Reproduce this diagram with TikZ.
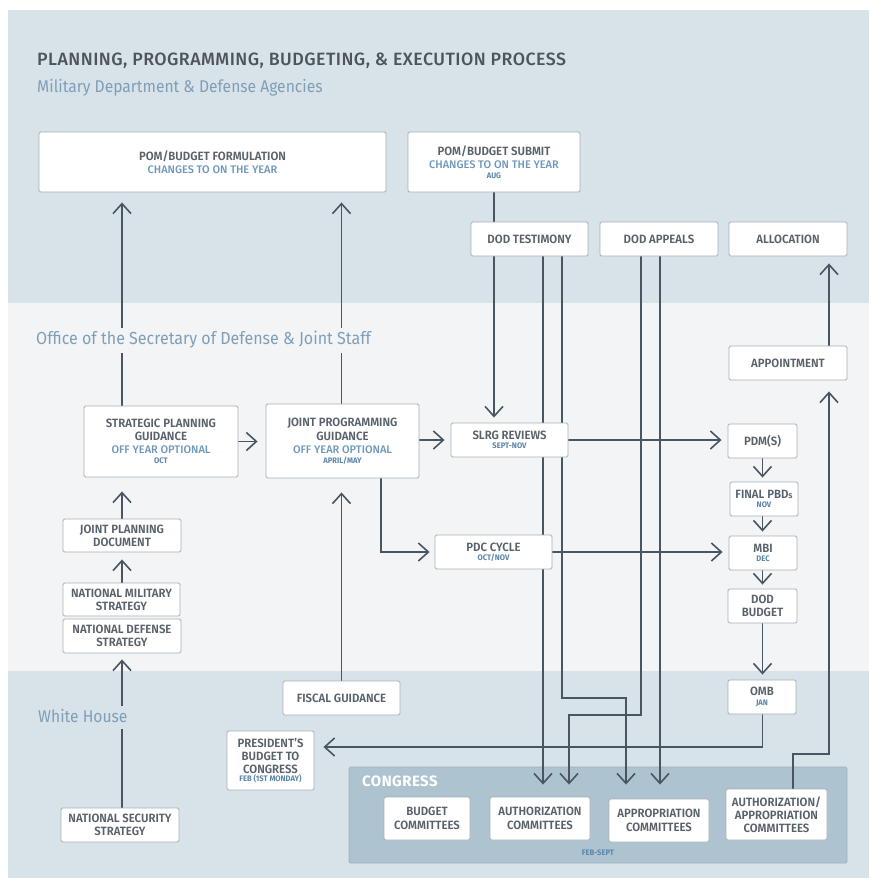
\documentclass[tikz,border=0pt]{standalone}
\usepackage{fontspec}
\setmainfont{Fira Sans}
\IfFontExistsTF{Fira Sans SemiBold}
 {\newfontfamily\bxfont[FakeStretch=0.95]{Fira Sans SemiBold}}
 {\newfontfamily\bxfontA[FakeStretch=0.95]{Fira Sans}\def\bxfont{\bxfontA\bfseries}}
\IfFontExistsTF{Fira Sans Medium}
 {\newfontfamily\mdfont{Fira Sans Medium}\newfontfamily\ttlfont[LetterSpace=2.5]{Fira Sans Medium}}
 {\newfontfamily\mdfont{Fira Sans}\newfontfamily\ttlfont[LetterSpace=2.5]{Fira Sans}}
\newfontfamily\bdfontA[FakeStretch=0.95]{Fira Sans}
\def\bdfont{\bdfontA\bfseries}
\newfontfamily\cgfontA[LetterSpace=3]{Fira Sans}
\def\cgfont{\cgfontA\bfseries}
\newfontfamily\lblfont[FakeStretch=0.92]{Fira Sans}
\usetikzlibrary{arrows.meta,calc}
\pgfdeclarelayer{back}
\pgfdeclarelayer{lines}
\pgfsetlayers{back,lines,main}
\definecolor{bandA}{HTML}{D8E2E9}
\definecolor{bandB}{HTML}{F2F4F6}
\definecolor{congr}{HTML}{ADC3D0}
\definecolor{congrb}{HTML}{9EB4C1}
\definecolor{ln}{HTML}{4A5562}
\definecolor{bxb}{HTML}{A8B0B8}
\definecolor{tdark}{HTML}{59626B}
\definecolor{ttitle}{HTML}{4D545B}
\definecolor{tlabel}{HTML}{7F9FB8}
\definecolor{tblue}{HTML}{6E98BA}
\definecolor{tdate}{HTML}{5B87AB}
\newcommand\tA{\fontsize{12}{13}\selectfont\color{tdark}\bxfont}
\newcommand\tB{\fontsize{11}{13}\selectfont\color{tblue}\mdfont}
\newcommand\tC{\fontsize{8}{13}\selectfont\color{tdate}\bdfont}
\begin{document}
\begin{tikzpicture}[x=1pt,y=-1pt,
 bx/.style={draw=bxb,fill=white,line width=0.9pt,rounded corners=1.5pt,inner sep=0pt,align=center,font=\tA},
 wh/.style 2 args={minimum width=#1pt,minimum height=#2pt},
 con/.style={draw=ln,line width=1.6pt},
 arr/.style={con,-{Straight Barb[length=10pt,width=18pt]}},
 lbl/.style={anchor=base west,inner sep=0pt,text=tlabel}
]
\useasboundingbox (0,0) rectangle (869,878);
\begin{pgfonlayer}{back}
\fill[white] (0,0) rectangle (869,878);
\fill[bandA] (8,10) rectangle (869,303);
\fill[bandB] (8,303) rectangle (869,671);
\fill[bandA] (8,671) rectangle (869,878);
\node[draw=congrb,fill=congr,line width=0.9pt,rounded corners=1.5pt,wh={498}{96}] (congress) at (598,815) {};
\end{pgfonlayer}

% titles
\node[anchor=base west,inner sep=0pt,font=\fontsize{17.8}{20}\selectfont\ttlfont,text=ttitle] (title) at (37,65) {PLANNING, PROGRAMMING, BUDGETING, \& EXECUTION PROCESS};
\node[lbl,font=\fontsize{17}{20}\selectfont\lblfont] (sub) at (37,92) {Military Department \& Defense Agencies};
\node[lbl,fill=bandB,inner xsep=2pt,text height=16.5pt,text depth=8.5pt,font=\fontsize{17.4}{20}\selectfont\lblfont] (osd) at (34,344.5) {Office of the Secretary of Defense \& Joint Staff};
\node[lbl,fill=bandA,inner xsep=2pt,text height=16pt,text depth=7pt,font=\fontsize{17}{20}\selectfont\lblfont] (wh) at (36,722) {White House};

% boxes
\node[bx,wh={347}{60}] (form) at (212.5,162) {\tA POM/BUDGET FORMULATION\\[-0.5pt]\tB CHANGES TO ON THE YEAR};
\node[bx,wh={172}{60}] (submit) at (494,162) {\tA POM/BUDGET SUBMIT\\[-0.5pt]\tB CHANGES TO ON THE YEAR\\[-3pt]\tC AUG};
\node[bx,wh={117}{34}] (testimony) at (529.5,239) {\tA DOD TESTIMONY};
\node[bx,wh={118}{34}] (appeals) at (659,239) {\tA DOD APPEALS};
\node[bx,wh={118}{34}] (allocation) at (788,239) {\tA ALLOCATION};
\node[bx,wh={118}{34}] (appointment) at (788,363) {\tA APPOINTMENT};
\node[bx,wh={154}{71}] (spg) at (161,441.5) {\tA STRATEGIC PLANNING\\\tA GUIDANCE\\[-0.5pt]\tB OFF YEAR OPTIONAL\\[-3pt]\tC OCT};
\node[bx,wh={153}{74}] (jpg) at (342.5,441) {\tA JOINT PROGRAMMING\\[1pt]\tA GUIDANCE\\[-0.5pt]\tB OFF YEAR OPTIONAL\\[-3pt]\tC APRIL/MAY};
\node[bx,wh={117}{34}] (slrg) at (509.5,440) {\tA SLRG REVIEWS\\[-3.5pt]\tC SEPT-NOV};
\node[bx,wh={69}{34}] (pdm) at (762.5,441) {\tA PDM(S)};
\node[bx,wh={68}{34}] (final) at (764,499) {\tA FINAL PBD{\fontsize{9}{13}\selectfont s}\\[-4.5pt]\tC NOV};
\node[bx,wh={68}{34}] (mbi) at (763,553) {\tA MBI\\[-4.5pt]\tC DEC};
\node[bx,wh={69}{34}] (dodbudget) at (762.5,606) {\tA DOD\\\tA BUDGET};
\node[bx,wh={117}{34}] (pdc) at (493.5,552) {\tA PDC CYCLE\\[-4.5pt]\tC OCT/NOV};
\node[bx,wh={118}{33}] (jpd) at (122,535.5) {\tA JOINT PLANNING\\\tA DOCUMENT};
\node[bx,wh={117}{33}] (nms) at (121.5,599.5) {\tA NATIONAL MILITARY\\\tA STRATEGY};
\node[bx,wh={118}{34}] (nds) at (122,636) {\tA NATIONAL DEFENSE\\\tA STRATEGY};
\node[bx,wh={117}{34}] (fiscal) at (341.5,698) {\tA FISCAL GUIDANCE};
\node[bx,wh={68}{34}] (omb) at (762,697) {\tA OMB\\[-3.5pt]\tC JAN};
\node[bx,wh={87}{59}] (pres) at (270.5,760.5) {\tA PRESIDENT’S\\\tA BUDGET TO\\\tA CONGRESS\\[-4.5pt]\tC FEB (1ST MONDAY)};
\node[bx,wh={118}{34}] (nss) at (120,825) {\tA NATIONAL SECURITY\\\tA STRATEGY};
\node[bx,wh={86}{43}] (budgetc) at (427,818.5) {\tA BUDGET\\[1pt]\tA COMMITTEES};
\node[bx,wh={100}{43}] (authc) at (540,818.5) {\tA AUTHORIZATION\\[1pt]\tA COMMITTEES};
\node[bx,wh={100}{43}] (approc) at (659,820.5) {\tA APPROPRIATION\\[1pt]\tA COMMITTEES};
\node[bx,wh={101}{51}] (aac) at (776.5,814.5) {\tA AUTHORIZATION/\\\tA APPROPRIATION\\\tA COMMITTEES};
\node[anchor=base west,inner sep=0pt,font=\fontsize{15}{17}\selectfont\cgfont,text=white] (congresslbl) at (362,786) {CONGRESS};
\node[anchor=base,inner sep=0pt,font=\tC] (febsept) at (598,855) {FEB-SEPT};

% lane coordinates
\coordinate (xa) at (543,0);
\coordinate (xb) at (562,0);
\coordinate (xc) at (626,0);
\coordinate (xd) at (641,0);
\coordinate (xe) at (569,0);
\coordinate (xf) at (660,0);
\coordinate (xg) at (381,0);
\coordinate (xh) at (793,0);
\coordinate (xi) at (829,0);
\coordinate (ya) at (0,698);
\coordinate (yb) at (0,715);
\coordinate (yc) at (0,747);
\coordinate (yd) at (0,754);

\begin{pgfonlayer}{lines}
\draw[arr,shorten >=10pt] (spg.north -| jpd.north) -- (form.south -| jpd.north);
\draw[arr,shorten >=10pt] (jpg.north -| fiscal.north) -- (form.south -| fiscal.north);
\draw[con] (submit.south) -- (testimony.north -| submit.south);
\draw[arr,shorten >=5pt] (testimony.south -| submit.south) -- (slrg.north -| submit.south);
\draw[arr,shorten >=12pt] (testimony.south -| xa) -- (authc.north -| xa);
\draw[arr,shorten >=14pt] (testimony.south -| xb) |- (xc |- ya) -- (approc.north -| xc);
\draw[arr,shorten >=12pt] (appeals.south -| xd) |- (xe |- yb) -- (authc.north -| xe);
\draw[arr,shorten >=14pt] (appeals.south -| xf) -- (approc.north -| xf);
\draw[arr,shorten >=8pt] (spg.east) -- (jpg.west |- spg.east);
\draw[arr,shorten >=6pt] (jpg.east |- slrg.west) -- (slrg.west);
\draw[arr,shorten >=5pt] (jpg.south -| xg) |- (pdc.west);
\draw[arr,shorten >=6pt] (slrg.east) -- (pdm.west |- slrg.east);
\draw[arr,shorten >=4pt] (pdm.south) -- (final.north -| pdm.south);
\draw[arr,shorten >=4pt] (final.south -| pdm.south) -- (mbi.north -| pdm.south);
\draw[arr,shorten >=4pt] (mbi.south -| pdm.south) -- (dodbudget.north -| pdm.south);
\draw[arr,shorten >=6pt] (pdc.east) -- (mbi.west |- pdc.east);
\draw[arr,shorten >=5pt] (dodbudget.south) -- (omb.north -| dodbudget.south);
\draw[arr,shorten >=9pt] (omb.south -| dodbudget.south) |- (pres.east |- yc);
\draw[arr,shorten >=11pt] (aac.north -| xh) |- (xi |- yd) -- (appointment.south -| xi);
\draw[arr,shorten >=7pt] (appointment.north -| xi) -- (allocation.south -| xi);
\draw[arr,shorten >=14pt] (jpd.north) -- (spg.south -| jpd.north);
\draw[arr,shorten >=7pt] (nms.north -| jpd.north) -- (jpd.south);
\draw[arr,shorten >=6pt] (nss.north -| jpd.north) -- (nds.south -| jpd.north);
\draw[arr,shorten >=14pt] (fiscal.north) -- (jpg.south -| fiscal.north);
\end{pgfonlayer}
\end{tikzpicture}
\end{document}
